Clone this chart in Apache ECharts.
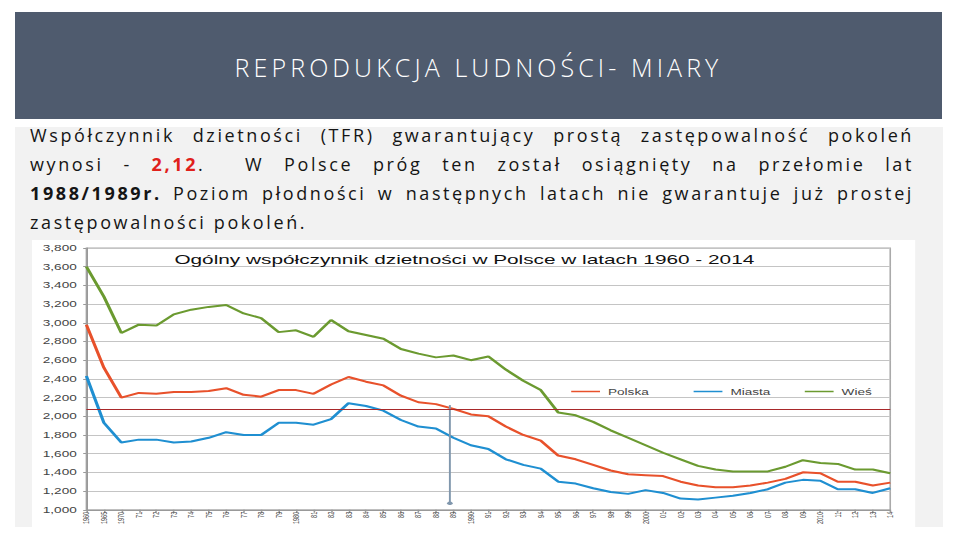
<!DOCTYPE html>
<html><head><meta charset="utf-8">
<script src="https://cdn.jsdelivr.net/npm/echarts@6/dist/echarts.min.js"></script>
<style>
html,body{margin:0;padding:0;background:#fff;width:960px;height:540px;overflow:hidden;font-family:"Open Sans","Liberation Sans",sans-serif;}
#header{position:absolute;left:15px;top:12px;width:927px;height:107px;background:#4f5b6e;}
#header h1{margin:0;position:absolute;left:0;right:0;top:40px;line-height:30px;text-align:center;color:#fff;font-weight:300;font-size:25px;letter-spacing:4.1px;font-family:"Open Sans","Liberation Sans",sans-serif;}
#panel{position:absolute;left:15px;top:127px;width:928px;height:400px;background:#f2f2f2;}
#text{position:absolute;left:30px;top:121px;width:884px;font-size:18px;letter-spacing:2.6px;color:#151515;line-height:29px;font-family:"Open Sans","Liberation Sans",sans-serif;}
#text .j{text-align:justify;text-align-last:justify;}
#text b.red{color:#e0201b;}
#chart{position:absolute;left:32px;top:240px;width:552px;height:287px;background:#fff;transform:scaleX(1.6);transform-origin:0 0;}
</style></head>
<body>
<div id="header"><h1>REPRODUKCJA LUDNOŚCI- MIARY</h1></div>
<div id="panel"></div>
<div id="text">
<div class="j">Współczynnik dzietności (TFR) gwarantujący prostą zastępowalność pokoleń</div>
<div class="j">wynosi - <b class="red">2,12</b>.&nbsp; W Polsce próg ten został osiągnięty na przełomie lat</div>
<div class="j"><b>1988/1989r.</b> Poziom płodności w następnych latach nie gwarantuje już prostej</div>
<div>zastępowalności pokoleń.</div>
</div>
<div id="chart"></div>
<script>
const chartTitle = 'Ogólny współczynnik dzietności w Polsce w latach 1960 - 2014';
const years = [1960,1965,1970,1971,1972,1973,1974,1975,1976,1977,1978,1979,1980,1981,1982,1983,1984,1985,1986,1987,1988,1989,1990,1991,1992,1993,1994,1995,1996,1997,1998,1999,2000,2001,2002,2003,2004,2005,2006,2007,2008,2009,2010,2011,2012,2013,2014];
const polska = [2980,2520,2200,2250,2240,2260,2260,2270,2300,2230,2210,2280,2280,2240,2340,2420,2370,2330,2220,2150,2130,2080,2020,2000,1890,1800,1740,1580,1540,1480,1420,1380,1370,1360,1300,1260,1240,1240,1260,1290,1330,1400,1390,1300,1300,1260,1290];
const miasta = [2430,1930,1720,1750,1750,1720,1730,1770,1830,1800,1800,1930,1930,1910,1970,2140,2110,2060,1960,1890,1870,1770,1690,1650,1540,1480,1440,1300,1280,1230,1190,1170,1210,1180,1120,1110,1130,1150,1180,1220,1290,1320,1310,1220,1220,1180,1230];
const wies = [3600,3280,2890,2980,2970,3090,3140,3170,3190,3100,3050,2900,2920,2850,3030,2910,2870,2830,2720,2670,2630,2650,2600,2640,2500,2380,2280,2040,2010,1940,1850,1770,1690,1610,1540,1470,1430,1410,1410,1410,1460,1530,1500,1490,1430,1430,1390];
const seriesNames = ['Polska','Miasta','Wieś'];
const thresholdValue = 2080;
const markerYear = 1988.8;
const markerRange = [2120, 1070];
const yMin = 1000, yMax = 3800, yStep = 200;

const catLabels = years.map(y => (y <= 1970 || y % 10 === 0) ? String(y) : String(y).slice(2));
const markerIndex = years.indexOf(1970) + (markerYear - 1970);

const chart = echarts.init(document.getElementById('chart'), null, {renderer:'svg'});
const ff = 'Liberation Sans, Arial, sans-serif';
const legendBase = {top:142,itemWidth:18,itemHeight:1.5,itemGap:28,icon:'rect',textStyle:{fontSize:8.5,color:'#444',fontFamily:ff}};
chart.setOption({
  animation:false,
  title:{text:chartTitle,left:84,top:8,textStyle:{fontFamily:ff,fontSize:13,fontWeight:'normal',color:'#111'}},
  legend:[
    Object.assign({},legendBase,{data:seriesNames.slice(0,2),left:332}),
    Object.assign({},legendBase,{data:seriesNames.slice(2),left:478})
  ],
  grid:{left:34,right:15.6,top:8,bottom:15,show:true,borderColor:'#aaa',borderWidth:1,containLabel:false},
  xAxis:[{type:'category',data:catLabels,boundaryGap:false,
    axisLine:{lineStyle:{color:'#999'}},axisTick:{show:true,length:3,lineStyle:{color:'#999'}},
    axisLabel:{interval:0,rotate:90,fontSize:5.5,margin:2,fontFamily:ff,color:'#444'},splitLine:{show:false}},
    {type:'value',min:0,max:years.length-1,show:false}],
  yAxis:{type:'value',min:yMin,max:yMax,interval:yStep,
    axisLine:{show:true,lineStyle:{color:'#999'}},axisTick:{show:true,length:2,lineStyle:{color:'#999'}},
    axisLabel:{fontSize:8.5,margin:6,formatter:v=>v.toLocaleString('en-US'),fontFamily:ff,color:'#444'},
    splitLine:{lineStyle:{color:'#c4c4c4',width:1}}},
  series:[
    {name:seriesNames[0],type:'line',data:polska,symbol:'none',lineStyle:{color:'#e8512b',width:2},itemStyle:{color:'#e8512b'},
      markLine:{silent:true,symbol:'none',label:{show:false},lineStyle:{color:'#a8282a',width:1.2,type:'solid'},data:[{yAxis:thresholdValue}]}},
    {name:seriesNames[1],type:'line',data:miasta,symbol:'none',lineStyle:{color:'#1f8fd1',width:2},itemStyle:{color:'#1f8fd1'}},
    {name:seriesNames[2],type:'line',data:wies,symbol:'none',lineStyle:{color:'#6b9a30',width:2},itemStyle:{color:'#6b9a30'}},
    {type:'line',xAxisIndex:1,data:[{value:[markerIndex,markerRange[0]],symbol:'none'},{value:[markerIndex,markerRange[1]],symbol:'circle',symbolSize:3.5}],
      lineStyle:{color:'#8097ad',width:1.2},itemStyle:{color:'#8097ad'},silent:true}
  ]
});
</script>
</body></html>
